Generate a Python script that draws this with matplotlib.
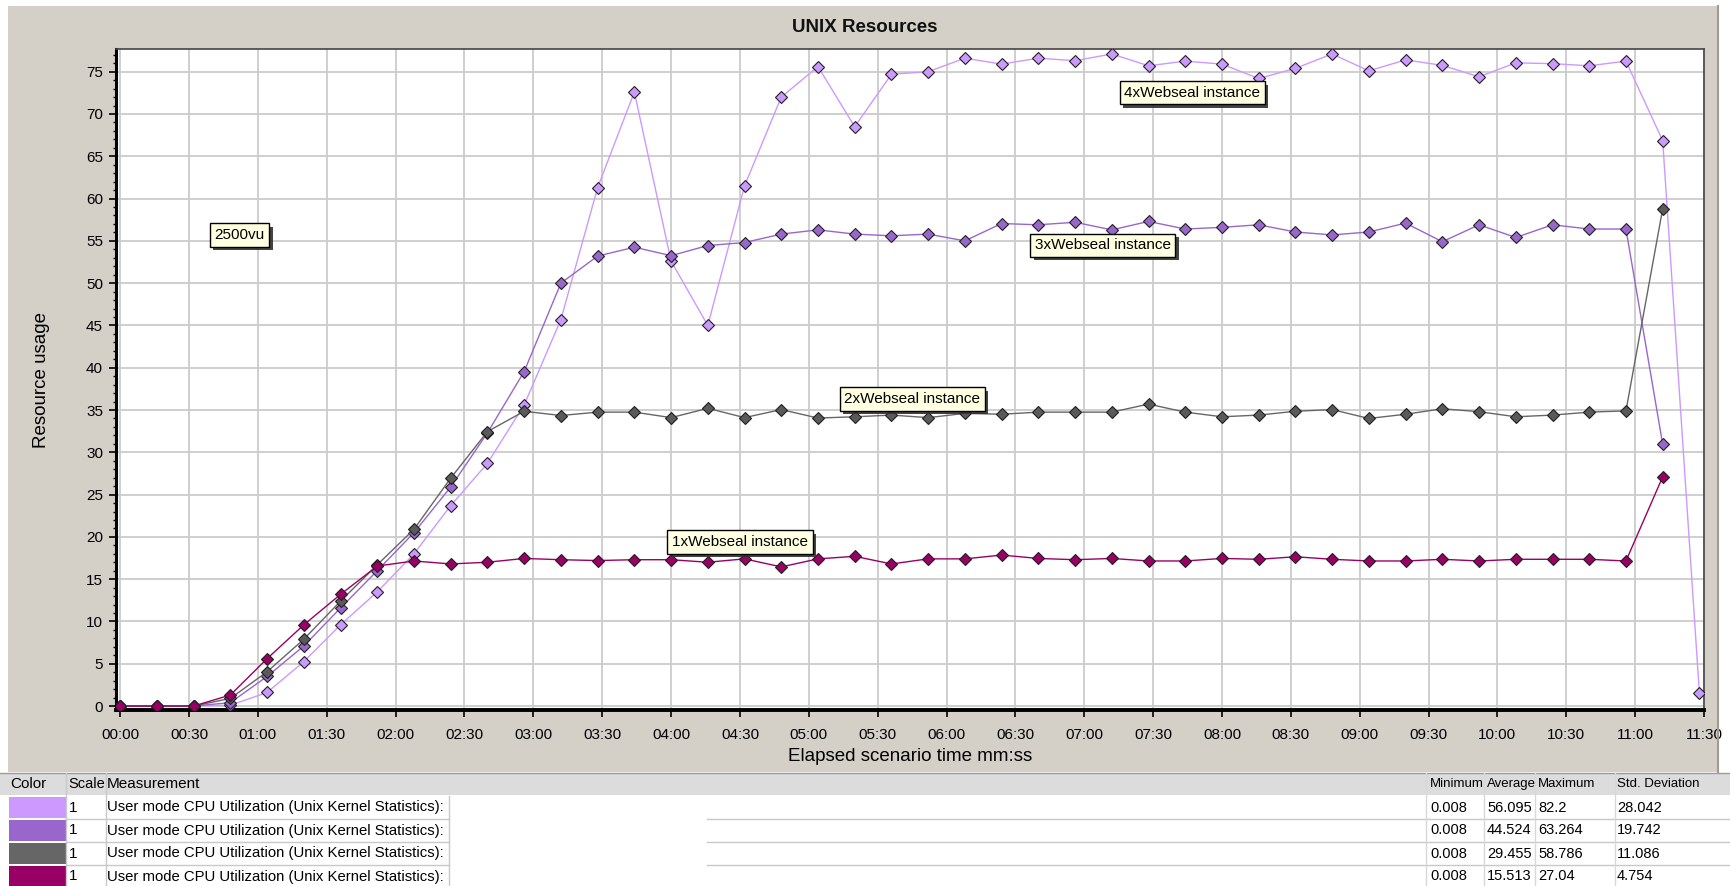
import matplotlib
matplotlib.use('Agg')
import matplotlib.pyplot as plt
import matplotlib.patheffects as pe
from matplotlib.patches import Rectangle
from matplotlib.lines import Line2D
from matplotlib.ticker import MultipleLocator, FuncFormatter
import numpy as np

# sample interval of the monitor (seconds)
STEP = 16

cpu_4x = [0, 0, 0, 0.1, 1.6, 5.25, 9.6, 13.5, 18.0, 23.7, 28.7, 35.6, 45.7, 61.3,
          72.6, 52.6, 45.0, 61.5, 72.0, 75.6, 68.5, 74.7, 75.0, 76.6, 75.9, 76.6,
          76.3, 77.1, 75.7, 76.25, 75.9, 74.2, 75.4, 77.1, 75.1, 76.4, 75.75, 74.4,
          76.05, 75.95, 75.7, 76.25, 66.85, 1.5]
cpu_3x = [0, 0, 0, 0.4, 3.5, 7.1, 11.6, 16.0, 20.5, 25.9, 32.3, 39.55, 50.0, 53.2,
          54.25, 53.25, 54.45, 54.8, 55.8, 56.3, 55.8, 55.6, 55.8, 55.0, 57.05, 56.9,
          57.2, 56.3, 57.3, 56.4, 56.6, 56.9, 56.05, 55.7, 56.05, 57.1, 54.9, 56.9,
          55.4, 56.9, 56.4, 56.4, 30.95]
cpu_2x = [0, 0, 0, 0.9, 4.05, 7.9, 12.4, 16.7, 20.9, 26.95, 32.45, 34.85, 34.35, 34.75,
          34.75, 34.1, 35.2, 34.1, 35.05, 34.05, 34.2, 34.4, 34.1, 34.6, 34.5, 34.75,
          34.75, 34.75, 35.7, 34.75, 34.2, 34.4, 34.85, 35.05, 34.0, 34.5, 35.15, 34.8,
          34.2, 34.4, 34.75, 34.9, 58.8]
cpu_1x = [0, 0, 0, 1.3, 5.6, 9.6, 13.2, 16.55, 17.15, 16.8, 17.0, 17.45, 17.3, 17.2,
          17.3, 17.3, 17.0, 17.4, 16.45, 17.4, 17.7, 16.8, 17.4, 17.4, 17.85, 17.45,
          17.3, 17.45, 17.15, 17.15, 17.45, 17.35, 17.65, 17.35, 17.15, 17.15, 17.35,
          17.15, 17.35, 17.35, 17.35, 17.15, 27.1]

series = [cpu_4x, cpu_3x, cpu_2x, cpu_1x]
line_colors = ['#cc99ff', '#9966cc', '#666666', '#990066']
marker_colors = ['#cc99ff', '#9966cc', '#5a5a5a', '#990066']

# label text, x (seconds), y (usage)
notes = [
    ('4xWebseal instance', 467, 72.5),
    ('3xWebseal instance', 428, 54.5),
    ('2xWebseal instance', 345, 36.3),
    ('1xWebseal instance', 270, 19.4),
    ('2500vu', 52, 55.7),
]

# legend table
measurement = ['User mode CPU Utilization (Unix Kernel Statistics):'] * 4
scale = ['1', '1', '1', '1']
minimum = ['0.008', '0.008', '0.008', '0.008']
average = ['56.095', '44.524', '29.455', '15.513']
maximum = ['82.2', '63.264', '58.786', '27.04']
std_dev = ['28.042', '19.742', '11.086', '4.754']
swatch_colors = ['#cc99ff', '#9966cc', '#666666', '#990066']

FONT = ['Liberation Sans', 'DejaVu Sans']
plt.rcParams['font.family'] = FONT

W, H = 1731, 886
fig = plt.figure(figsize=(W / 100, H / 100), dpi=100, facecolor='white')


def fx(px):
    return px / W


def fy(py):
    return 1 - py / H


def rect(x0, y0, x1, y1, **kw):
    fig.add_artist(Rectangle((fx(x0), fy(y1)), fx(x1 - x0), (y1 - y0) / H,
                             transform=fig.transFigure, **kw))


def hline(y, x0, x1, **kw):
    fig.add_artist(Line2D([fx(x0), fx(x1)], [fy(y), fy(y)], transform=fig.transFigure, **kw))


def vline(x, y0, y1, **kw):
    fig.add_artist(Line2D([fx(x), fx(x)], [fy(y0), fy(y1)], transform=fig.transFigure, **kw))


# chart panel
rect(8, 6, 1718, 772, facecolor='#d4d0c8', edgecolor='none', zorder=0)
vline(1718.5, 6, 772, color='#a09c94', lw=1.5, zorder=1)
fig.text(fx(865), fy(27), 'UNIX Resources', ha='center', va='center',
         fontsize=13.5, fontweight='bold', color='#111111')

ax = fig.add_axes([fx(115.6), fy(710), fx(1704 - 115.6), (710 - 49.3) / H])
ax.set_facecolor('white')

for vals, lc, mc in zip(series, line_colors, marker_colors):
    t = np.arange(len(vals)) * STEP
    ax.plot(t, vals, color=lc, lw=1.0, marker='D', markersize=6,
            markerfacecolor=mc, markeredgecolor='#202020', markeredgewidth=0.8,
            zorder=3)

ax.set_xlim(-2, 690)
ax.set_ylim(-0.47, 77.65)
ax.xaxis.set_major_locator(MultipleLocator(30))
ax.xaxis.set_major_formatter(FuncFormatter(lambda v, p: '%02d:%02d' % (int(v) // 60, int(v) % 60)))
ax.yaxis.set_major_locator(MultipleLocator(5))
ax.yaxis.set_minor_locator(MultipleLocator(1))
ax.grid(True, which='major', color='#cccccc', lw=1.3, zorder=1)
ax.set_axisbelow(True)

for side in ('top', 'right'):
    ax.spines[side].set_color('#444444')
    ax.spines[side].set_linewidth(1.2)
ax.spines['left'].set_linewidth(2.2)
ax.spines['bottom'].set_linewidth(2.8)
ax.tick_params(axis='both', which='major', direction='out', length=5, width=1.2,
               labelsize=11, colors='black', pad=4)
ax.tick_params(axis='y', which='minor', direction='out', length=2.5, width=1)
ax.tick_params(axis='x', pad=8)

ax.set_xlabel('Elapsed scenario time mm:ss', fontsize=13.5, labelpad=4)
ax.set_ylabel('Resource usage', fontsize=13.5, labelpad=26)

for label, x, y in notes:
    txt = ax.text(x, y, label, ha='center', va='center', fontsize=11, zorder=5,
                  bbox=dict(boxstyle='square,pad=0.3', facecolor='#ffffe1',
                            edgecolor='black', linewidth=1.0))
    txt.get_bbox_patch().set_path_effects(
        [pe.withSimplePatchShadow(offset=(2.5, -2.5), shadow_rgbFace='#303030', alpha=0.9)])

# legend table
rect(0, 773, W, 795, facecolor='#dcdcdc', edgecolor='none', zorder=0)
hline(772.5, 0, W, color='#9a9a9a', lw=1)
header_y = 784
fig.text(fx(10), fy(header_y), 'Color', ha='left', va='center', fontsize=11)
fig.text(fx(68), fy(header_y), 'Scale', ha='left', va='center', fontsize=10.5)
fig.text(fx(107), fy(header_y), 'Measurement', ha='left', va='center', fontsize=11)
num_cols = [1430, 1487, 1538, 1617]
for x, name in zip(num_cols, ['Minimum', 'Average', 'Maximum', 'Std. Deviation']):
    fig.text(fx(x), fy(header_y), name, ha='left', va='center', fontsize=9.5)

row_top = 796
row_h = 23
for i in range(4):
    y0 = row_top + i * row_h
    yc = y0 + row_h / 2
    rect(9, y0 + 1, 66, y0 + row_h - 1, facecolor=swatch_colors[i], edgecolor='none', zorder=1)
    fig.text(fx(69), fy(yc), scale[i], ha='left', va='center', fontsize=11)
    fig.text(fx(107), fy(yc), measurement[i], ha='left', va='center', fontsize=10.7)
    for x, v in zip(num_cols, [minimum[i], average[i], maximum[i], std_dev[i]]):
        fig.text(fx(x), fy(yc), v, ha='left', va='center', fontsize=10.5)
    yb = y0 + row_h
    hline(yb, 66, 449, color='#c8c8c8', lw=1)
    hline(yb, 707, W, color='#c8c8c8', lw=1)

for x in [66.5, 106]:
    vline(x, 773, H, color='#c8c8c8', lw=1)
for x in [1426, 1484, 1535, 1615]:
    vline(x, 773, H, color='#d8d8d8', lw=1)
vline(449, 796, H, color='#c8c8c8', lw=1)

fig.savefig('out.png', dpi=100, facecolor='white')
